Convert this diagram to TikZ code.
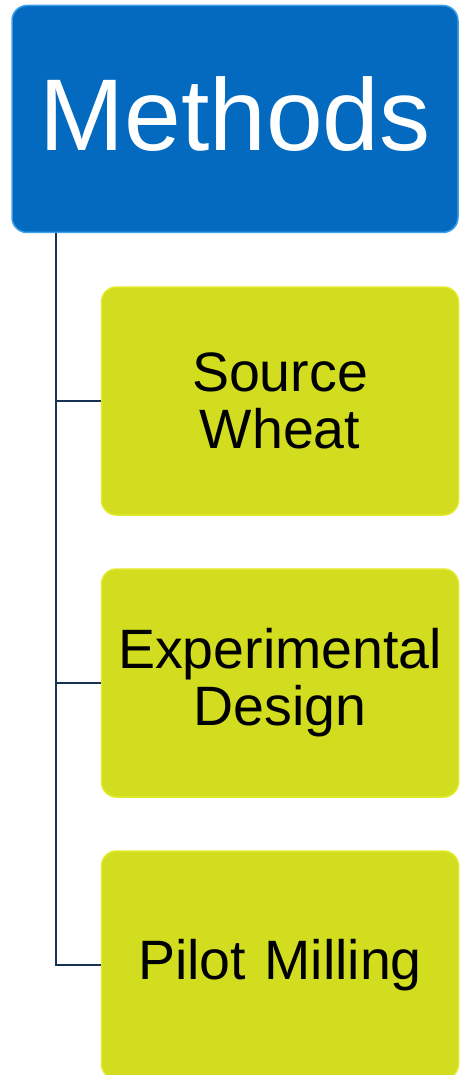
\documentclass[tikz,border=0pt]{standalone}
\usepackage{fontspec}
\setmainfont{Liberation Sans}
\usetikzlibrary{positioning}
\definecolor{methodblue}{RGB}{3,106,192}
\definecolor{methodedge}{RGB}{60,160,235}
\definecolor{topicgreen}{RGB}{210,221,31}
\definecolor{topicedge}{RGB}{226,234,40}
\definecolor{treeline}{RGB}{22,50,85}

\tikzset{
  every box/.style={rounded corners=15pt, line width=1.5pt, align=center},
  head box/.style={every box, fill=methodblue, draw=methodedge,
    minimum width=446pt, minimum height=227pt, text=white, text depth=10pt,
    font=\fontsize{102}{106}\selectfont},
  topic box/.style={every box, fill=topicgreen, draw=topicedge,
    minimum width=357pt, minimum height=228pt, text width=345pt,
    font=\fontsize{55.5}{57}\selectfont},
  tree/.style={treeline, line width=2pt}
}

\begin{document}
\begin{tikzpicture}[x=1pt, y=-1pt]
\useasboundingbox (0,0) rectangle (459,1075);

\node [head box] (methods) at (235,119) {Methods};

\foreach \t [count=\i] in {{Source\\Wheat},{Experimental\\Design},{Pilot Milling}}
  \node [topic box] (topic-\i) at (280,{401+282*(\i-1)}) {\t};

% the trunk leaves the head box near its left side
\coordinate (trunk) at ([xshift=45pt]methods.south west);

\foreach \i in {1,2,3}
  \draw [tree] (trunk) |- (topic-\i.west);

\end{tikzpicture}
\end{document}
